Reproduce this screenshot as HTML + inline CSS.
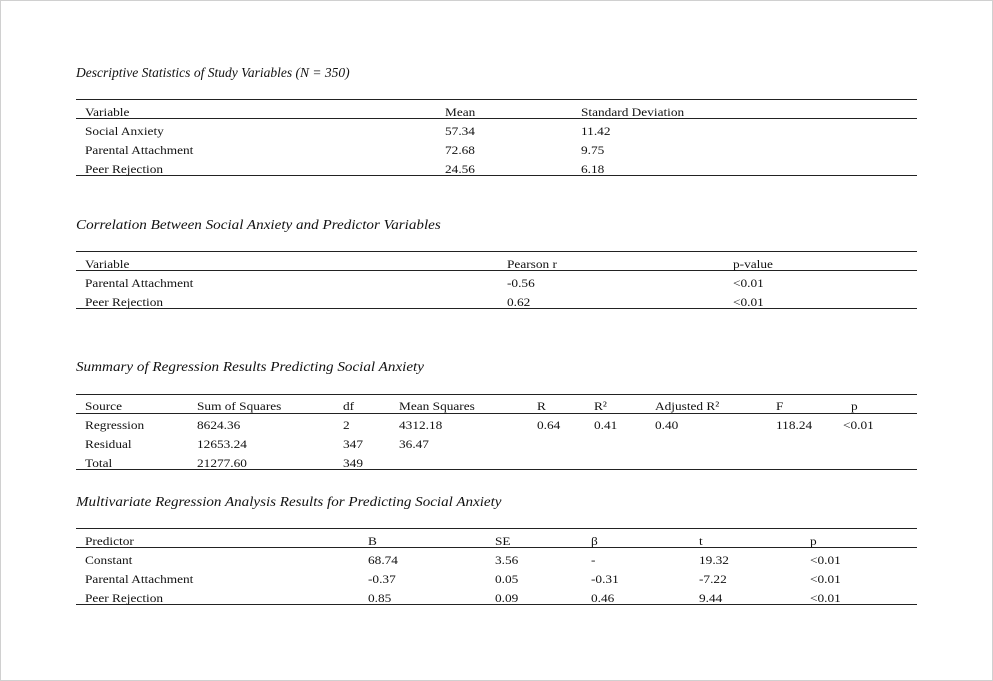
<!DOCTYPE html>
<html><head><meta charset="utf-8"><style>
body{margin:0;width:993px;height:681px;background:#fff;position:relative;overflow:hidden;font-family:"Liberation Serif",serif;color:#111}
.frame{position:absolute;left:0;top:0;width:991px;height:679px;border:1px solid #d0d0d0}
.t{position:absolute;font-size:12px;line-height:14px;white-space:nowrap;transform:scaleX(1.11);transform-origin:0 0}
.h{position:absolute;font-size:14px;line-height:16px;font-style:italic;white-space:nowrap;left:76px;transform:scaleX(1.08);transform-origin:0 0}
.l{position:absolute;left:76px;width:841px;height:1px;background:#222}
</style></head><body><div class="frame"></div>

<div class="h" style="top:66px;transform:scaleX(0.965)">Descriptive Statistics of Study Variables (N = 350)</div>
<div class="l" style="top:99px"></div><div class="l" style="top:118px"></div><div class="l" style="top:175px"></div>
<div class="t" style="left:85px;top:105px">Variable</div><div class="t" style="left:445px;top:105px">Mean</div><div class="t" style="left:581px;top:105px">Standard Deviation</div>
<div class="t" style="left:85px;top:124px">Social Anxiety</div><div class="t" style="left:445px;top:124px">57.34</div><div class="t" style="left:581px;top:124px">11.42</div>
<div class="t" style="left:85px;top:143px">Parental Attachment</div><div class="t" style="left:445px;top:143px">72.68</div><div class="t" style="left:581px;top:143px">9.75</div>
<div class="t" style="left:85px;top:162px">Peer Rejection</div><div class="t" style="left:445px;top:162px">24.56</div><div class="t" style="left:581px;top:162px">6.18</div>

<div class="h" style="top:218px">Correlation Between Social Anxiety and Predictor Variables</div>
<div class="l" style="top:251px"></div><div class="l" style="top:270px"></div><div class="l" style="top:308px"></div>
<div class="t" style="left:85px;top:257px">Variable</div><div class="t" style="left:507px;top:257px">Pearson r</div><div class="t" style="left:733px;top:257px">p-value</div>
<div class="t" style="left:85px;top:276px">Parental Attachment</div><div class="t" style="left:507px;top:276px">-0.56</div><div class="t" style="left:733px;top:276px">&lt;0.01</div>
<div class="t" style="left:85px;top:295px">Peer Rejection</div><div class="t" style="left:507px;top:295px">0.62</div><div class="t" style="left:733px;top:295px">&lt;0.01</div>

<div class="h" style="top:360px">Summary of Regression Results Predicting Social Anxiety</div>
<div class="l" style="top:394px"></div><div class="l" style="top:413px"></div><div class="l" style="top:469px"></div>
<div class="t" style="left:85px;top:399px">Source</div><div class="t" style="left:197px;top:399px">Sum of Squares</div><div class="t" style="left:343px;top:399px">df</div><div class="t" style="left:399px;top:399px">Mean Squares</div><div class="t" style="left:537px;top:399px">R</div><div class="t" style="left:594px;top:399px">R²</div><div class="t" style="left:655px;top:399px">Adjusted R²</div><div class="t" style="left:776px;top:399px">F</div><div class="t" style="left:851px;top:399px">p</div>
<div class="t" style="left:85px;top:418px">Regression</div><div class="t" style="left:197px;top:418px">8624.36</div><div class="t" style="left:343px;top:418px">2</div><div class="t" style="left:399px;top:418px">4312.18</div><div class="t" style="left:537px;top:418px">0.64</div><div class="t" style="left:594px;top:418px">0.41</div><div class="t" style="left:655px;top:418px">0.40</div><div class="t" style="left:776px;top:418px">118.24</div><div class="t" style="left:843px;top:418px">&lt;0.01</div>
<div class="t" style="left:85px;top:437px">Residual</div><div class="t" style="left:197px;top:437px">12653.24</div><div class="t" style="left:343px;top:437px">347</div><div class="t" style="left:399px;top:437px">36.47</div>
<div class="t" style="left:85px;top:456px">Total</div><div class="t" style="left:197px;top:456px">21277.60</div><div class="t" style="left:343px;top:456px">349</div>

<div class="h" style="top:495px;transform:scaleX(1.076)">Multivariate Regression Analysis Results for Predicting Social Anxiety</div>
<div class="l" style="top:528px"></div><div class="l" style="top:547px"></div><div class="l" style="top:604px"></div>
<div class="t" style="left:85px;top:534px">Predictor</div><div class="t" style="left:368px;top:534px">B</div><div class="t" style="left:495px;top:534px">SE</div><div class="t" style="left:591px;top:534px">β</div><div class="t" style="left:699px;top:534px">t</div><div class="t" style="left:810px;top:534px">p</div>
<div class="t" style="left:85px;top:553px">Constant</div><div class="t" style="left:368px;top:553px">68.74</div><div class="t" style="left:495px;top:553px">3.56</div><div class="t" style="left:591px;top:553px">-</div><div class="t" style="left:699px;top:553px">19.32</div><div class="t" style="left:810px;top:553px">&lt;0.01</div>
<div class="t" style="left:85px;top:572px">Parental Attachment</div><div class="t" style="left:368px;top:572px">-0.37</div><div class="t" style="left:495px;top:572px">0.05</div><div class="t" style="left:591px;top:572px">-0.31</div><div class="t" style="left:699px;top:572px">-7.22</div><div class="t" style="left:810px;top:572px">&lt;0.01</div>
<div class="t" style="left:85px;top:591px">Peer Rejection</div><div class="t" style="left:368px;top:591px">0.85</div><div class="t" style="left:495px;top:591px">0.09</div><div class="t" style="left:591px;top:591px">0.46</div><div class="t" style="left:699px;top:591px">9.44</div><div class="t" style="left:810px;top:591px">&lt;0.01</div>
</body></html>
